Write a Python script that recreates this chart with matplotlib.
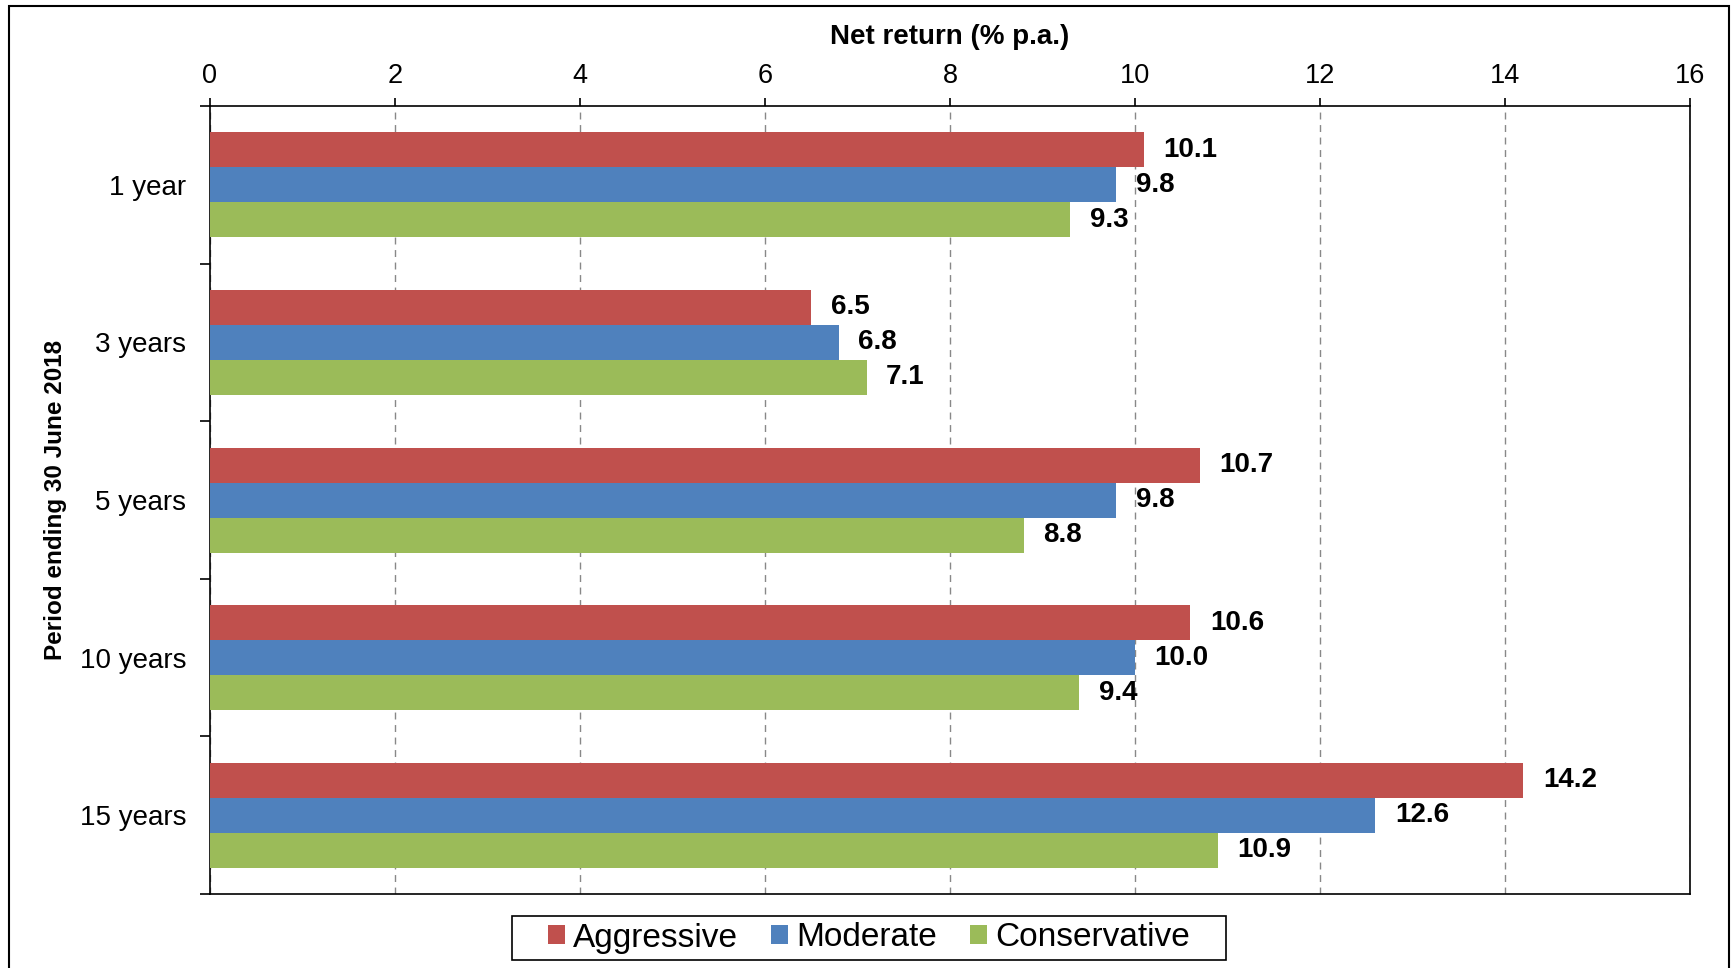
import matplotlib.pyplot as plt
import numpy as np
from matplotlib.patches import Rectangle

plt.rcParams['font.family'] = ['Liberation Sans', 'DejaVu Sans']

periods = ['1 year', '3 years', '5 years', '10 years', '15 years']
aggressive = [10.1, 6.5, 10.7, 10.6, 14.2]
moderate = [9.8, 6.8, 9.8, 10.0, 12.6]
conservative = [9.3, 7.1, 8.8, 9.4, 10.9]
series_names = ['Aggressive', 'Moderate', 'Conservative']
colors = ['#C0504D', '#4F81BD', '#9BBB59']
xticks = [0, 2, 4, 6, 8, 10, 12, 14, 16]

fig = plt.figure(figsize=(17.35, 9.68), dpi=100)
ax = fig.add_axes([0.121, 0.0764, 0.853, 0.814])

y = np.arange(len(periods))
h = 0.222
for k, (vals, name, col) in enumerate(zip([aggressive, moderate, conservative], series_names, colors)):
    pos = y + (k - 1) * h
    ax.barh(pos, vals, height=h, color=col, label=name, zorder=3)
    for p, v in zip(pos, vals):
        ax.annotate(f'{v:.1f}', (v, p), xytext=(14, 0), textcoords='offset points',
                    ha='left', va='center', fontsize=20, fontweight='bold')

ax.set_xlim(0, 16)
ax.set_ylim(4.5, -0.5)
ax.set_xticks(xticks)
ax.xaxis.tick_top()
ax.xaxis.set_label_position('top')
ax.tick_params(axis='x', direction='out', length=6, width=1.2, pad=6, labelsize=19.5)
ax.set_xlabel('Net return (% p.a.)', fontsize=20, fontweight='bold', labelpad=14)

ax.set_yticks(y)
ax.set_yticklabels(periods, fontsize=20)
ax.set_yticks(np.arange(-0.5, 5, 1), minor=True)
ax.tick_params(axis='y', which='major', length=0, pad=17)
ax.tick_params(axis='y', which='minor', length=7, width=1.2, direction='out')
ax.set_ylabel('Period ending 30 June 2018', fontsize=17.5, fontweight='bold', labelpad=9)

for s in ax.spines.values():
    s.set_linewidth(1.2)
    s.set_color('black')

ax.grid(axis='x', linestyle=(0, (5, 4)), color='#888888', linewidth=1, zorder=0)

# legend entries without frame; the box is drawn separately (wider padding than mpl allows)
leg = ax.legend(loc='center', bbox_to_anchor=(869 / 1735, 1 - 938 / 968), bbox_transform=fig.transFigure,
                ncol=3, fontsize=24, frameon=False, handlelength=0.5,
                handleheight=0.5, handletextpad=0.25, columnspacing=1.0, borderpad=0.2,
                borderaxespad=0)

fig.patches.append(Rectangle((512 / 1735, 1 - 960 / 968), 714 / 1735, 44 / 968, transform=fig.transFigure,
                             fill=False, edgecolor='black', linewidth=1.2))
fig.patches.append(Rectangle((9 / 1735, -0.05), 1720 / 1735, 1.05 - 6 / 968, transform=fig.transFigure,
                             fill=False, edgecolor='black', linewidth=1.5, clip_on=False))

fig.savefig('out.png', dpi=100)
